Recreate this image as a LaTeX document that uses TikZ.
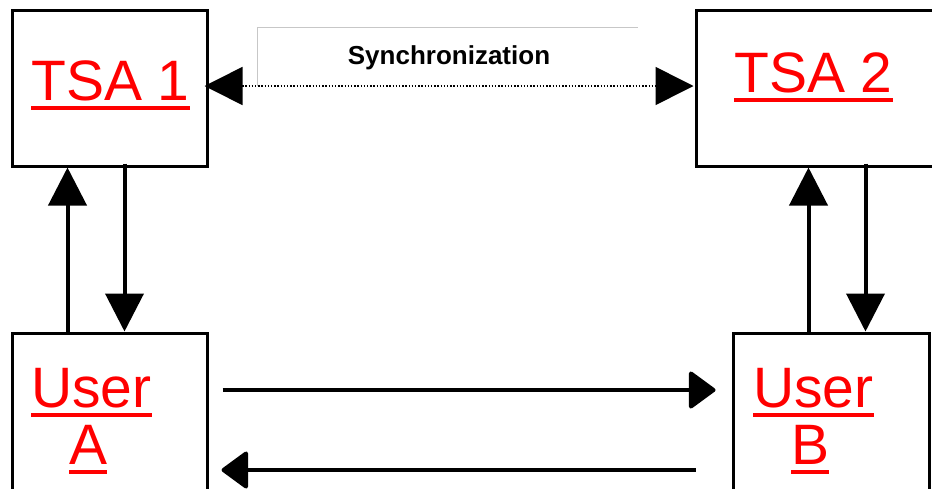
\documentclass[tikz,border=0pt]{standalone}
\usepackage{fontspec}
\setmainfont{Liberation Sans}
\usetikzlibrary{arrows.meta}
% red text with a heavy red underline
\newcommand\redul[1]{\setbox0\hbox{#1}\rlap{\rule[-10pt]{\wd0}{4pt}}\box0}
\tikzset{
  box/.style={draw=black, line width=3pt, rectangle, inner sep=0pt},
  lbl/.style={inner sep=0pt, text=red, font=\fontsize{57}{60}\selectfont},
  varr/.style={line width=4pt, -{Triangle[length=38pt,width=38pt]}},
  harr/.style={line width=4pt, -{Triangle[round,length=28pt,width=40pt]}},
  syncarr/.style={line width=1.6pt, dash pattern=on 1.4pt off 1.8pt,
    {Triangle[length=38pt,width=38pt]}-{Triangle[length=38pt,width=38pt]}},
  frameline/.style={draw=black!22, line width=1pt}
}
\begin{document}
\begin{tikzpicture}[x=1pt,y=-1pt]
\useasboundingbox (0,0) rectangle (932,488);
% the four parties
\node[box, minimum width=195, minimum height=156] (tsa1) at (109.5,88) {};
\node[box, minimum width=250, minimum height=156] (tsa2) at (821,88) {};
\node[box, minimum width=195, minimum height=164] (usera) at (109.5,415) {};
\node[box, minimum width=196, minimum height=164] (userb) at (831,415) {};
% labels
\node[lbl, anchor=base west] (t1) at (31,100) {\redul{TSA 1}};
\node[lbl, anchor=base west] (t2) at (734,92) {\redul{TSA 2}};
\node[lbl, anchor=base west] (ua1) at (31,407) {\redul{User}};
\node[lbl, anchor=base west] (ua2) at (69,464) {\redul{A}};
\node[lbl, anchor=base west] (ub1) at (753,407) {\redul{User}};
\node[lbl, anchor=base west] (ub2) at (791,464) {\redul{B}};
% synchronization label with its open frame
\node[inner sep=0pt, minimum width=380, minimum height=58] (syncbox) at (448,57) {};
\node[inner sep=0pt, font=\bfseries\fontsize{26}{28}\selectfont, anchor=base] (synctext) at (449,64) {Synchronization};
\draw[frameline] (syncbox.south west) -- (syncbox.north west) -- (syncbox.north east);
\draw[syncarr] ([shift={(-4,-2)}]tsa1.east) -- ([shift={(-1,-2)}]tsa2.west);
% requests and responses between users and TSAs
\draw[varr] ([xshift=57]usera.north west) -- ([xshift=57]usera.north west |- tsa1.south);
\draw[varr] ([shift={(114,-4)}]tsa1.south west) -- ([xshift=114]tsa1.south west |- usera.north);
\draw[varr] ([xshift=77]userb.north west) -- ([xshift=77]userb.north west |- tsa2.south);
\draw[varr] ([xshift=134]userb.north west |- tsa2.south) ++(0,-4) -- ([xshift=134]userb.north west);
% exchange between the two users
\draw[harr] ([shift={(14,-25)}]usera.east) -- ([shift={(-16,-25)}]userb.west);
\draw[harr] ([shift={(-36,55)}]userb.west) -- ([shift={(13,55)}]usera.east);
\end{tikzpicture}
\end{document}
